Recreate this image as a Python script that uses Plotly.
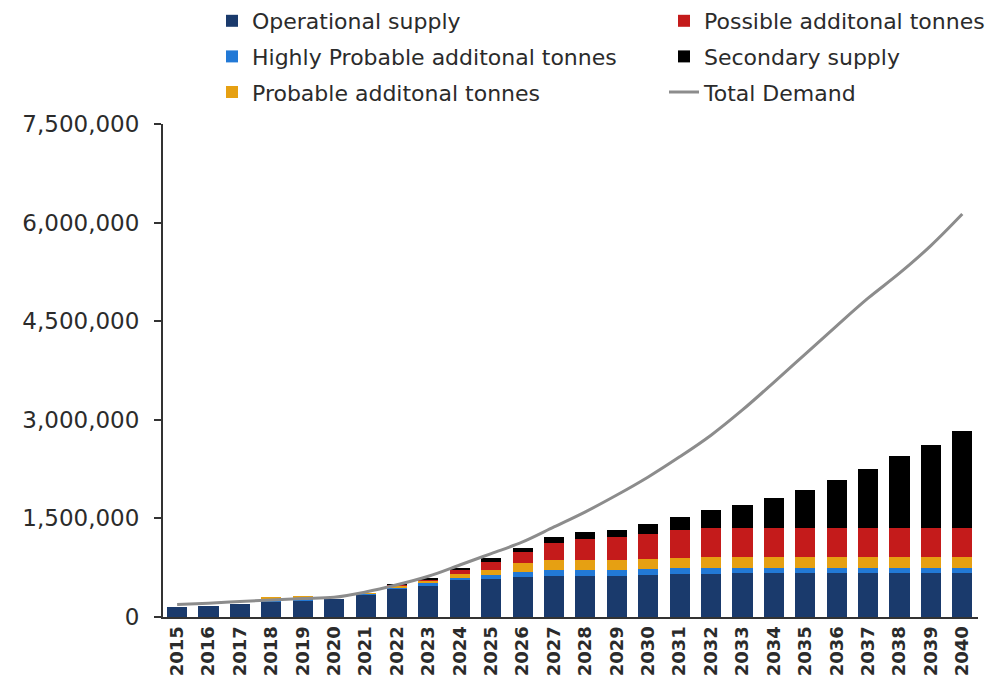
import plotly.graph_objects as go

years = list(range(2015, 2041))
year_labels = [str(y) for y in years]

operational = [155000, 175000, 200000, 235000, 245000, 280000, 345000, 430000, 485000, 560000,
               585000, 610000, 620000, 625000, 630000, 640000, 655000, 660000, 665000, 665000,
               665000, 665000, 665000, 665000, 665000, 665000]
highly_probable = [0, 0, 0, 40000, 50000, 0, 5000, 12000, 25000, 40000,
                   55000, 80000, 100000, 95000, 90000, 88000, 85000, 82000, 80000, 80000,
                   80000, 80000, 80000, 80000, 80000, 80000]
probable = [0, 0, 0, 15000, 10000, 0, 5000, 30000, 40000, 60000,
            75000, 127000, 150000, 150000, 152000, 155000, 160000, 168000, 168000, 168000,
            168000, 168000, 168000, 168000, 168000, 168000]
possible = [0, 0, 0, 0, 0, 0, 0, 15000, 25000, 55000,
            127000, 168000, 250000, 315000, 348000, 380000, 420000, 440000, 448000, 448000,
            448000, 448000, 448000, 448000, 448000, 448000]
secondary = [0, 0, 0, 0, 0, 0, 0, 15000, 25000, 35000,
             60000, 60000, 90000, 110000, 100000, 147000, 200000, 275000, 350000, 456000,
             567000, 719000, 887000, 1085000, 1263000, 1470000]
total_demand = [190000, 210000, 235000, 260000, 280000, 300000, 380000, 490000, 620000, 791000,
                965000, 1142000, 1370000, 1600000, 1855000, 2130000, 2436000, 2766000, 3150000, 3570000,
                4000000, 4430000, 4850000, 5230000, 5650000, 6130000]

y_ticks = [0, 1500000, 3000000, 4500000, 6000000, 7500000]
y_tick_labels = ["0", "1,500,000", "3,000,000", "4,500,000", "6,000,000", "7,500,000"]

FONT = "DejaVu Sans"
TXT = "#2b2b2b"
AXIS = "#333333"

fig = go.Figure()
series = [
    ("Operational supply", operational, "#1a3a6c", "legend"),
    ("Highly Probable additonal tonnes", highly_probable, "#2279d6", "legend"),
    ("Probable additonal tonnes", probable, "#e6a012", "legend"),
    ("Possible additonal tonnes", possible, "#c41b1b", "legend2"),
    ("Secondary supply", secondary, "#000000", "legend2"),
]
for name, vals, color, leg in series:
    fig.add_trace(go.Bar(x=years, y=vals, name=name, marker=dict(color=color, line=dict(width=0)),
                         legend=leg, legendgroup=name))
fig.add_trace(go.Scatter(x=years, y=total_demand, name="Total Demand", mode="lines",
                         line=dict(color="#8c8c8c", width=3, shape="spline"),
                         legend="legend2", legendgroup="Total Demand"))

leg_common = dict(
    orientation="v", xref="container", yref="container",
    yanchor="top", xanchor="left",
    font=dict(family=FONT, size=22, color=TXT),
    traceorder="grouped", tracegroupgap=4,
    bgcolor="rgba(0,0,0,0)",
)

fig.update_layout(
    barmode="stack",
    bargap=0.36,
    width=1006, height=687,
    margin=dict(l=163, r=28, t=124, b=70, autoexpand=False),
    plot_bgcolor="white", paper_bgcolor="white",
    font=dict(family=FONT, color=TXT),
    showlegend=True,
    legend=dict(x=212 / 1006, y=1.0, **leg_common),
    legend2=dict(x=664 / 1006, y=1.0, **leg_common),
    xaxis=dict(
        range=[2014.55, 2040.5], tickmode="array", tickvals=years, ticktext=year_labels,
        tickangle=-90, showgrid=False, zeroline=False,
        showline=True, linecolor=AXIS, linewidth=2, ticks="",
        tickfont=dict(family=FONT, size=18, color=TXT, weight="bold"),
    ),
    yaxis=dict(
        range=[0, 7500000], tickmode="array", tickvals=y_ticks, ticktext=y_tick_labels,
        showgrid=False, zeroline=False, showline=True, linecolor=AXIS, linewidth=2,
        ticks="outside", ticklen=7, tickcolor=AXIS, tickwidth=2,
        ticklabelstandoff=10,
        tickfont=dict(family=FONT, size=23, color=TXT),
    ),
)

fig.write_html("out.html")
